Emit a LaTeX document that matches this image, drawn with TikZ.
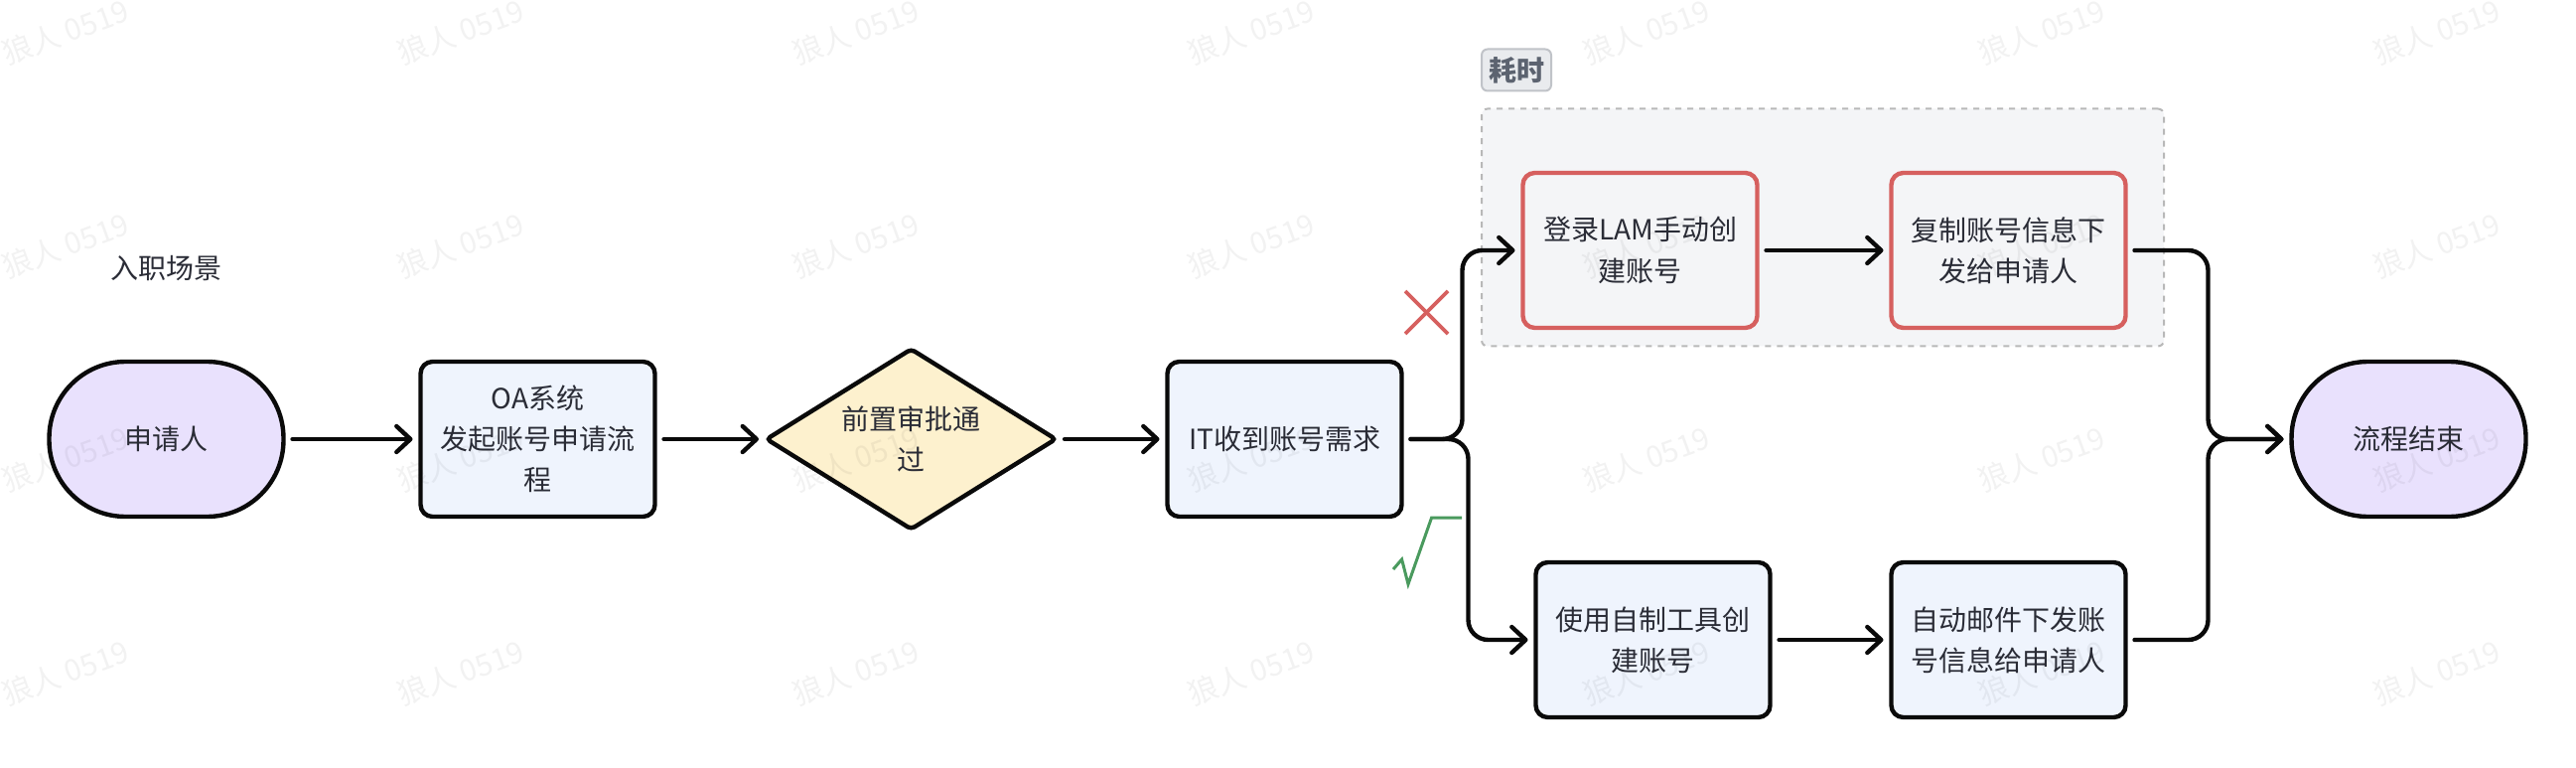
\documentclass[tikz,border=0pt]{standalone}
\usepackage{fontspec}
\setmainfont{Noto Sans CJK SC}
\usetikzlibrary{arrows.meta,shapes,positioning,backgrounds}
\definecolor{inkline}{HTML}{0A0A0A}
\definecolor{inktext}{HTML}{2A2C36}
\definecolor{fillpill}{HTML}{E9E1FD}
\definecolor{fillbox}{HTML}{EFF4FD}
\definecolor{fillgate}{HTML}{FDF1CE}
\definecolor{fillgroup}{HTML}{F4F5F7}
\definecolor{filltag}{HTML}{E9EBEE}
\definecolor{drawtag}{HTML}{C0C3C8}
\definecolor{texttag}{HTML}{5C6370}
\definecolor{redmark}{HTML}{D6605F}
\definecolor{greenmark}{HTML}{4A9A5E}
\tikzset{
  every picture/.style = {
    >={Straight Barb[length=7pt,width=13pt,round]},
  }
  ,
  state/.style = {
    rectangle,
    align = center,
    text = inktext,
    font = \fontsize{14}{20.6}\selectfont,
    draw = inkline,
    line width = 2.2pt,
    inner sep = 0pt,
    outer sep = 0pt,
    minimum width = 118pt,
    minimum height = 78pt
  }
  ,
  state-pill/.style = {
    state,
    fill = fillpill,
    rounded corners = 38.5pt
  }
  ,
  state-box/.style = {
    state,
    fill = fillbox,
    rounded corners = 6pt
  }
  ,
  state-red/.style = {
    state,
    fill = fillgroup,
    draw = redmark,
    rounded corners = 6pt
  }
  ,
  state-gate/.style = {
    state,
    diamond,
    aspect = 1.6,
    fill = fillgate,
    rounded corners = 2pt,
    minimum width = 145.5pt,
    minimum height = 90.5pt
  }
  , % dashed area behind the slow path
  group-box/.style = {
    rectangle,
    fill = fillgroup,
    draw = black!28,
    dashed,
    line width = 1pt,
    rounded corners = 3pt,
    outer sep = 0pt,
    minimum width = 343.5pt,
    minimum height = 119.5pt
  }
  ,
  label-tag/.style = {
    rectangle,
    fill = filltag,
    draw = drawtag,
    text = texttag,
    font = \fontsize{14}{20}\selectfont\bfseries,
    line width = 1pt,
    rounded corners = 3pt,
    inner sep = 0pt,
    outer sep = 0pt,
    minimum width = 35pt,
    minimum height = 21pt
  }
  ,
  label-note/.style = {
    text = inktext,
    font = \fontsize{14}{20}\selectfont,
    inner sep = 0pt
  }
  ,
  label-mark/.style = {
    text = black,
    opacity = .05,
    font = \fontsize{15}{18}\selectfont,
    rotate = 20,
    inner sep = 0pt
  }
  ,
  flow/.style = {
    ->,
    draw = inkline,
    line width = 2.2pt,
    line cap = round,
    shorten < = 4.5pt,
    shorten > = 4pt
  }
  ,
  flow-bend/.style = {
    flow,
    rounded corners = 10pt
  }
}

\begin{document}
\begin{tikzpicture}
\useasboundingbox (0,0) rectangle (1297pt,386pt);

\node [state-pill] (applicant) at (83.75pt,165pt) {申请人};
\node [label-note, above = 40.5pt of applicant] (scene) {入职场景};
\node [state-box, right = 69pt of applicant] (oa) {OA系统\\发起账号申请流\\程};
\node [state-gate, right = 56.25pt of oa] (gate) {前置审批通\\过};
\node [state-box, right = 56.25pt of gate] (it) {IT收到账号需求};
\node [state-red, right = 61pt of it, yshift = 95pt] (manual) {登录LAM手动创\\建账号};
\node [state-red, right = 67.5pt of manual] (copy) {复制账号信息下\\发给申请人};
\node [state-box, right = 67.5pt of it, yshift = -101pt] (tool) {使用自制工具创\\建账号};
\node [state-box, right = 61pt of tool] (mail) {自动邮件下发账\\号信息给申请人};
\node [state-pill, right = 448pt of it] (done) {流程结束};

\begin{scope}[on background layer]
\node [group-box, anchor = south west, xshift = -20.75pt, yshift = -9.25pt] (group) at (manual.south west) {};
\end{scope}
\node [label-tag, anchor = south west, yshift = 9pt] (slow) at (group.north west) {耗时};

\path (applicant) edge[flow] (oa);
\path (oa) edge[flow] (gate);
\path (gate) edge[flow] (it);
\path (manual) edge[flow] (copy);
\path (tool) edge[flow] (mail);

\draw [flow-bend] (it.east) -- ++(30.5pt,0) |- (manual.west);
\draw [flow-bend] (it.east) -- ++(33.5pt,0) |- (tool.west);
\draw [flow-bend] (copy.east) -- ++(41.5pt,0) |- (done.west);
\draw [flow-bend] (mail.east) -- ++(41.5pt,0) |- (done.west);

% hand drawn marks
\draw [redmark, line width = 1.8pt] (707.5pt,239.5pt) -- (729pt,218pt);
\draw [redmark, line width = 1.8pt] (707.5pt,218pt) -- (729pt,239.5pt);
\draw [greenmark, line width = 1.5pt] (701.5pt,99.5pt) -- (705.8pt,104.5pt) -- (709pt,92pt) -- (720.8pt,125.5pt) -- (736pt,125.5pt);

% watermark over everything
\foreach \i in {0,...,6} {
  \foreach \j in {0,...,3} {
    \node [label-mark] (mark-\i-\j) at ({33pt+\i*199pt},{370pt-\j*107.5pt}) {狼人 0519};
  }
}
\end{tikzpicture}
\end{document}
